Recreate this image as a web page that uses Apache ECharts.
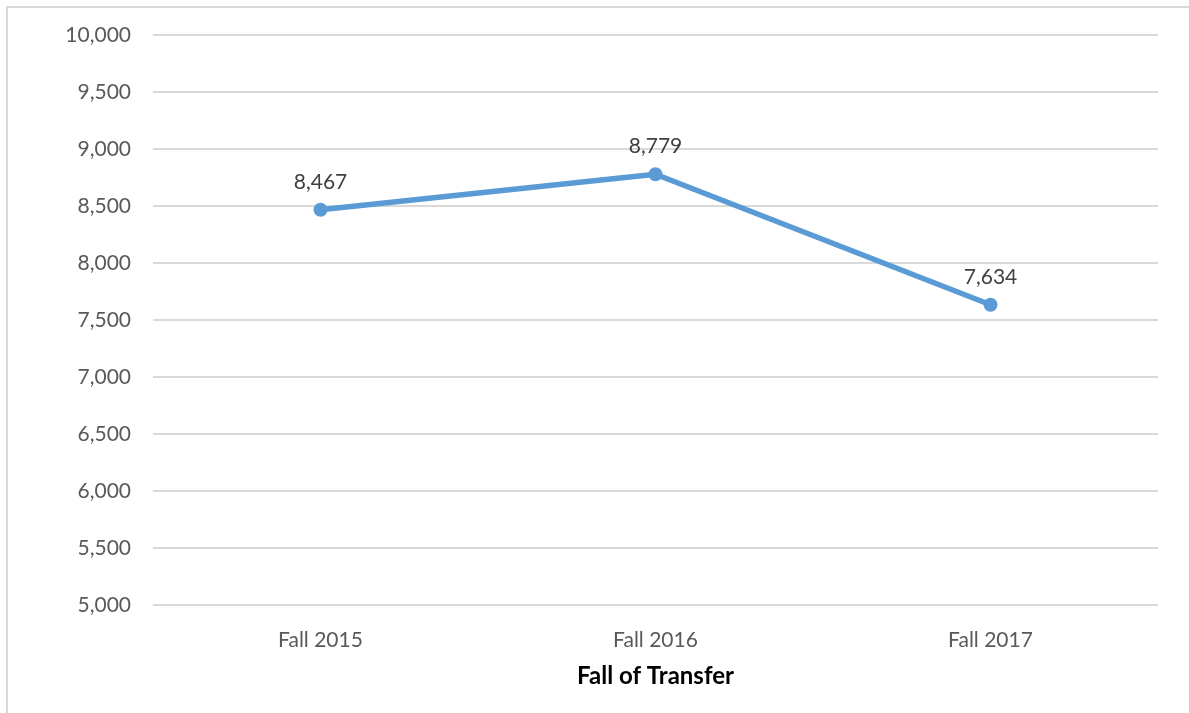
<!DOCTYPE html>
<html>
<head>
<meta charset="utf-8">
<script src="https://cdn.jsdelivr.net/npm/echarts@6/dist/echarts.min.js"></script>
<style>
  html, body { margin: 0; padding: 0; background: #fff; overflow: hidden; }
  #frame {
    position: absolute; left: 6px; top: 6px; width: 1200px; height: 720px;
    border: 2px solid #d9d9d9; box-sizing: border-box;
  }
  #chart { position: absolute; left: 0; top: 0; width: 1189px; height: 713px; }
</style>
</head>
<body>
<div id="frame"></div>
<div id="chart"></div>
<script>
const categories = ['Fall 2015', 'Fall 2016', 'Fall 2017'];
const transfers = [8467, 8779, 7634];
const axisName = 'Fall of Transfer';

const font = 'Lato, "Open Sans", sans-serif';

const chart = echarts.init(document.getElementById('chart'), null, {
  renderer: 'canvas',
});

chart.setOption({
  animation: false,
  grid: { left: 153, right: 31, top: 35, bottom: 108 },
  xAxis: {
    type: 'category',
    data: categories,
    boundaryGap: true,
    axisLine: { show: false },
    axisTick: { show: false },
    axisLabel: {
      color: '#595959',
      fontFamily: font,
      fontSize: 21,
      margin: 25,
    },
    name: axisName,
    nameLocation: 'middle',
    nameGap: 59,
    nameTextStyle: {
      color: '#000',
      fontFamily: font,
      fontSize: 24,
      fontWeight: 'bold',
    },
  },
  yAxis: {
    type: 'value',
    min: 5000,
    max: 10000,
    interval: 500,
    axisLine: { show: false },
    axisTick: { show: false },
    splitLine: { lineStyle: { color: '#d9d9d9', width: 2 } },
    axisLabel: {
      color: '#595959',
      fontFamily: font,
      fontSize: 21,
      margin: 22,
      formatter: v => v.toLocaleString('en-US'),
    },
  },
  series: [
    {
      type: 'line',
      data: transfers,
      symbol: 'circle',
      symbolSize: 14,
      lineStyle: { color: '#5b9bd5', width: 5.5 },
      itemStyle: { color: '#5b9bd5' },
      label: {
        show: true,
        position: 'top',
        distance: 10,
        color: '#404040',
        fontFamily: font,
        fontSize: 21,
        formatter: p => p.value.toLocaleString('en-US'),
      },
    },
  ],
});
</script>
</body>
</html>
